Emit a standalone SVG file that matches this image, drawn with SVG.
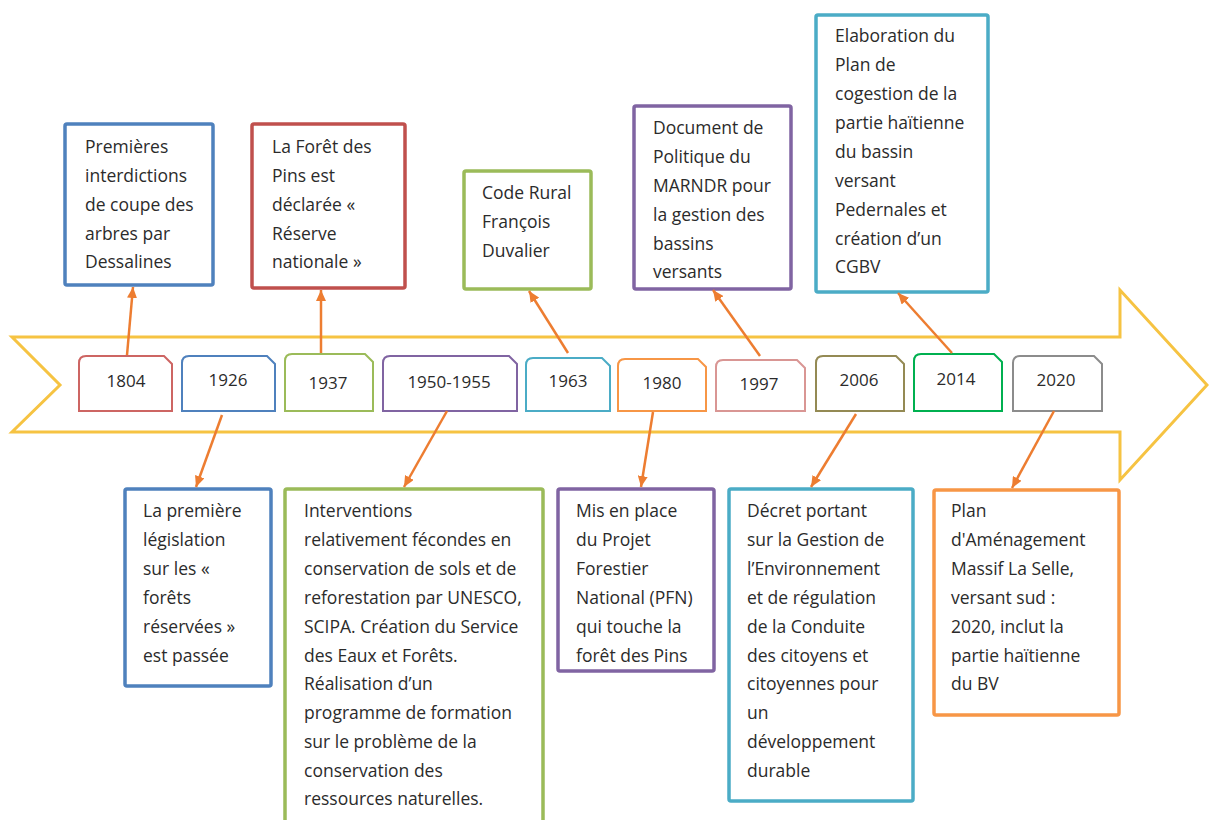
<svg xmlns="http://www.w3.org/2000/svg" width="1209" height="820" viewBox="0 0 1209 820">
<style>
text{font-family:"Open Sans","Liberation Sans",sans-serif;fill:#2b2b2b}
.t{font-size:17.5px}
.y{font-size:17px;text-anchor:middle}
.box{fill:#fff;stroke-width:3.5}
.yr{fill:#fff;stroke-width:2}
.con line{stroke:#ED7D31;stroke-width:2.5;marker-end:url(#ah)}
</style>
<defs>
<marker id="ah" markerUnits="userSpaceOnUse" markerWidth="12" markerHeight="10" refX="11" refY="5" orient="auto">
<path d="M0,0 L11,5 L0,10 Z" fill="#ED7D31"/>
</marker>
</defs>
<rect width="1209" height="820" fill="#fff"/>
<g id="timeline-arrow">
<polygon points="12,337 1120,337 1120,290 1207,385 1120,480 1120,432 12,432 60,385" fill="#fff" stroke="#F6C342" stroke-width="3"/>
</g>
<g id="year-1804"><path class="yr" stroke="#CD6563" d="M79,411 V363 Q79,356 86,356 H164 L172,364 V411 Z"/><text class="y" x="126" y="387">1804</text></g>
<g id="year-1926"><path class="yr" stroke="#4F81BD" d="M182,411 V363 Q182,356 189,356 H267 L275,364 V411 Z"/><text class="y" x="228" y="386">1926</text></g>
<g id="year-1937"><path class="yr" stroke="#9BBB59" d="M285,411 V361 Q285,354 292,354 H365 L373,362 V411 Z"/><text class="y" x="328" y="389">1937</text></g>
<g id="year-1950"><path class="yr" stroke="#8064A2" d="M383,411 V363 Q383,356 390,356 H509 L517,364 V411 Z"/><text class="y" x="449" y="388">1950-1955</text></g>
<g id="year-1963"><path class="yr" stroke="#4BACC6" d="M526,411 V365 Q526,358 533,358 H602 L610,366 V411 Z"/><text class="y" x="568" y="387">1963</text></g>
<g id="year-1980"><path class="yr" stroke="#F79646" d="M618,411 V366 Q618,359 625,359 H698 L706,367 V411 Z"/><text class="y" x="662" y="389">1980</text></g>
<g id="year-1997"><path class="yr" stroke="#D99694" d="M716,411 V367 Q716,360 723,360 H797 L805,368 V411 Z"/><text class="y" x="759" y="390">1997</text></g>
<g id="year-2006"><path class="yr" stroke="#948A54" d="M816,411 V363 Q816,356 823,356 H896 L904,364 V411 Z"/><text class="y" x="859" y="386">2006</text></g>
<g id="year-2014"><path class="yr" stroke="#00B050" d="M914,411 V361 Q914,354 921,354 H994 L1002,362 V411 Z"/><text class="y" x="956" y="385">2014</text></g>
<g id="year-2020"><path class="yr" stroke="#8C8C8C" d="M1013,411 V363 Q1013,356 1020,356 H1094 L1102,364 V411 Z"/><text class="y" x="1056" y="386">2020</text></g>

<g id="ev-1804"><rect class="box" x="65" y="124" width="148" height="161" rx="2" stroke="#4F81BD"/>
<text class="t" x="85"><tspan x="85" y="153">Premières</tspan><tspan x="85" y="182">interdictions</tspan><tspan x="85" y="211">de coupe des</tspan><tspan x="85" y="240">arbres par</tspan><tspan x="85" y="268">Dessalines</tspan></text></g>
<g id="ev-1937"><rect class="box" x="252" y="124" width="153" height="164" rx="2" stroke="#C0504D"/>
<text class="t" x="272"><tspan x="272" y="153">La Forêt des</tspan><tspan x="272" y="182">Pins est</tspan><tspan x="272" y="211">déclarée «</tspan><tspan x="272" y="240">Réserve</tspan><tspan x="272" y="268">nationale »</tspan></text></g>
<g id="ev-1963"><rect class="box" x="464" y="171" width="127" height="118" rx="2" stroke="#9BBB59"/>
<text class="t" x="482"><tspan x="482" y="199">Code Rural</tspan><tspan x="482" y="228">François</tspan><tspan x="482" y="257">Duvalier</tspan></text></g>
<g id="ev-1997"><rect class="box" x="634" y="106" width="157" height="183" rx="2" stroke="#8064A2"/>
<text class="t" x="653"><tspan x="653" y="134">Document de</tspan><tspan x="653" y="163">Politique du</tspan><tspan x="653" y="192">MARNDR pour</tspan><tspan x="653" y="221">la gestion des</tspan><tspan x="653" y="250">bassins</tspan><tspan x="653" y="278">versants</tspan></text></g>
<g id="ev-2014"><rect class="box" x="816" y="15" width="172" height="277" rx="2" stroke="#4BACC6"/>
<text class="t" x="835"><tspan x="835" y="42">Elaboration du</tspan><tspan x="835" y="71">Plan de</tspan><tspan x="835" y="100">cogestion de la</tspan><tspan x="835" y="129">partie haïtienne</tspan><tspan x="835" y="158">du bassin</tspan><tspan x="835" y="187">versant</tspan><tspan x="835" y="216">Pedernales et</tspan><tspan x="835" y="245">création d’un</tspan><tspan x="835" y="273">CGBV</tspan></text></g>

<g id="ev-1926"><rect class="box" x="125" y="489" width="146" height="197" rx="2" stroke="#4F81BD"/>
<text class="t" x="143"><tspan x="143" y="517">La première</tspan><tspan x="143" y="546">législation</tspan><tspan x="143" y="575">sur les «</tspan><tspan x="143" y="604">forêts</tspan><tspan x="143" y="633">réservées »</tspan><tspan x="143" y="662">est passée</tspan></text></g>
<g id="ev-1950"><rect class="box" x="285" y="489" width="258" height="345" rx="2" stroke="#9BBB59"/>
<text class="t" x="304"><tspan x="304" y="517">Interventions</tspan><tspan x="304" y="546">relativement fécondes en</tspan><tspan x="304" y="575">conservation de sols et de</tspan><tspan x="304" y="604">reforestation par UNESCO,</tspan><tspan x="304" y="633">SCIPA. Création du Service</tspan><tspan x="304" y="662">des Eaux et Forêts.</tspan><tspan x="304" y="690">Réalisation d’un</tspan><tspan x="304" y="719">programme de formation</tspan><tspan x="304" y="748">sur le problème de la</tspan><tspan x="304" y="777">conservation des</tspan><tspan x="304" y="805">ressources naturelles.</tspan></text></g>
<g id="ev-1980"><rect class="box" x="558" y="489" width="156" height="182" rx="2" stroke="#8064A2"/>
<text class="t" x="576"><tspan x="576" y="517">Mis en place</tspan><tspan x="576" y="546">du Projet</tspan><tspan x="576" y="575">Forestier</tspan><tspan x="576" y="604">National (PFN)</tspan><tspan x="576" y="633">qui touche la</tspan><tspan x="576" y="662">forêt des Pins</tspan></text></g>
<g id="ev-2006"><rect class="box" x="729" y="489" width="184" height="312" rx="2" stroke="#4BACC6"/>
<text class="t" x="747"><tspan x="747" y="517">Décret portant</tspan><tspan x="747" y="546">sur la Gestion de</tspan><tspan x="747" y="575">l’Environnement</tspan><tspan x="747" y="604">et de régulation</tspan><tspan x="747" y="633">de la Conduite</tspan><tspan x="747" y="662">des citoyens et</tspan><tspan x="747" y="690">citoyennes pour</tspan><tspan x="747" y="719">un</tspan><tspan x="747" y="748">développement</tspan><tspan x="747" y="777">durable</tspan></text></g>
<g id="ev-2020"><rect class="box" x="934" y="490" width="185" height="225" rx="2" stroke="#F79646"/>
<text class="t" x="951"><tspan x="951" y="517">Plan</tspan><tspan x="951" y="546">d'Aménagement</tspan><tspan x="951" y="575">Massif La Selle,</tspan><tspan x="951" y="604">versant sud :</tspan><tspan x="951" y="633">2020, inclut la</tspan><tspan x="951" y="662">partie haïtienne</tspan><tspan x="951" y="690">du BV</tspan></text></g>

<g id="connectors" class="con">
<line x1="127" y1="355" x2="133" y2="287"/>
<line x1="321" y1="353" x2="321" y2="290"/>
<line x1="568" y1="353" x2="529" y2="291"/>
<line x1="760" y1="356" x2="713" y2="290"/>
<line x1="952" y1="353" x2="898" y2="293"/>
<line x1="222" y1="415" x2="196" y2="487"/>
<line x1="447" y1="411" x2="404" y2="487"/>
<line x1="653" y1="412" x2="641" y2="487"/>
<line x1="856" y1="414" x2="811" y2="487"/>
<line x1="1054" y1="411" x2="1012" y2="488"/>
</g>
</svg>
